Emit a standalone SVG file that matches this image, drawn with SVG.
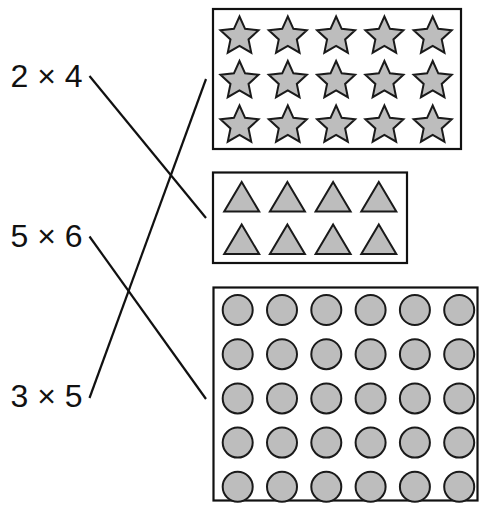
<svg xmlns="http://www.w3.org/2000/svg" xmlns:xlink="http://www.w3.org/1999/xlink" width="479" height="512" viewBox="0 0 479 512">
<style>
.box{fill:#fff;stroke:#111;stroke-width:2.2}
.shape{fill:#bdbdbd;stroke:#1a1a1a;stroke-width:2;stroke-linejoin:miter}
.lbl{font-family:"Liberation Sans",Arial,sans-serif;font-size:32px;fill:#111}
.conn{stroke:#111;stroke-width:2.2;fill:none;stroke-linecap:butt}
</style>
<defs>
<polygon id="star" class="shape" points="0,-20 5.58,-7.69 19.02,-6.18 9.03,2.94 11.76,16.18 0,9.5 -11.76,16.18 -9.03,2.94 -19.02,-6.18 -5.58,-7.69"/>
<polygon id="tri" class="shape" points="0,0 17.5,29.5 -17.5,29.5"/>
<circle id="dot" class="shape" r="15"/>
</defs>
<g id="label-2x4"><text class="lbl" x="10.5" y="87">2 × 4</text></g>
<g id="label-5x6"><text class="lbl" x="10.5" y="247">5 × 6</text></g>
<g id="label-3x5"><text class="lbl" x="10.5" y="407">3 × 5</text></g>
<g id="stars">
<rect class="box" x="213" y="9" width="248" height="140"/>
<use xlink:href="#star" x="239.5" y="36.5"/><use xlink:href="#star" x="287.8" y="36.5"/><use xlink:href="#star" x="336.1" y="36.5"/><use xlink:href="#star" x="384.4" y="36.5"/><use xlink:href="#star" x="432.7" y="36.5"/>
<use xlink:href="#star" x="239.5" y="81"/><use xlink:href="#star" x="287.8" y="81"/><use xlink:href="#star" x="336.1" y="81"/><use xlink:href="#star" x="384.4" y="81"/><use xlink:href="#star" x="432.7" y="81"/>
<use xlink:href="#star" x="239.5" y="125.5"/><use xlink:href="#star" x="287.8" y="125.5"/><use xlink:href="#star" x="336.1" y="125.5"/><use xlink:href="#star" x="384.4" y="125.5"/><use xlink:href="#star" x="432.7" y="125.5"/>
</g>
<g id="triangles">
<rect class="box" x="213" y="172.5" width="194" height="90.5"/>
<use xlink:href="#tri" x="241.7" y="182"/><use xlink:href="#tri" x="287.4" y="182"/><use xlink:href="#tri" x="333.1" y="182"/><use xlink:href="#tri" x="378.8" y="182"/>
<use xlink:href="#tri" x="241.7" y="224.5"/><use xlink:href="#tri" x="287.4" y="224.5"/><use xlink:href="#tri" x="333.1" y="224.5"/><use xlink:href="#tri" x="378.8" y="224.5"/>
</g>
<g id="circles">
<rect class="box" x="213.5" y="287.5" width="264" height="213"/>
<g id="r1"><use xlink:href="#dot" x="237.7" y="310"/><use xlink:href="#dot" x="282" y="310"/><use xlink:href="#dot" x="326.3" y="310"/><use xlink:href="#dot" x="370.6" y="310"/><use xlink:href="#dot" x="414.9" y="310"/><use xlink:href="#dot" x="459.2" y="310"/></g>
<use xlink:href="#r1" y="44.2"/><use xlink:href="#r1" y="88.4"/><use xlink:href="#r1" y="132.6"/><use xlink:href="#r1" y="176.8"/>
</g>
<g id="connectors">
<line class="conn" x1="89.5" y1="76" x2="206" y2="218"/>
<line class="conn" x1="89.5" y1="236.5" x2="206" y2="399"/>
<line class="conn" x1="89.5" y1="398" x2="206" y2="79"/>
</g>
</svg>
